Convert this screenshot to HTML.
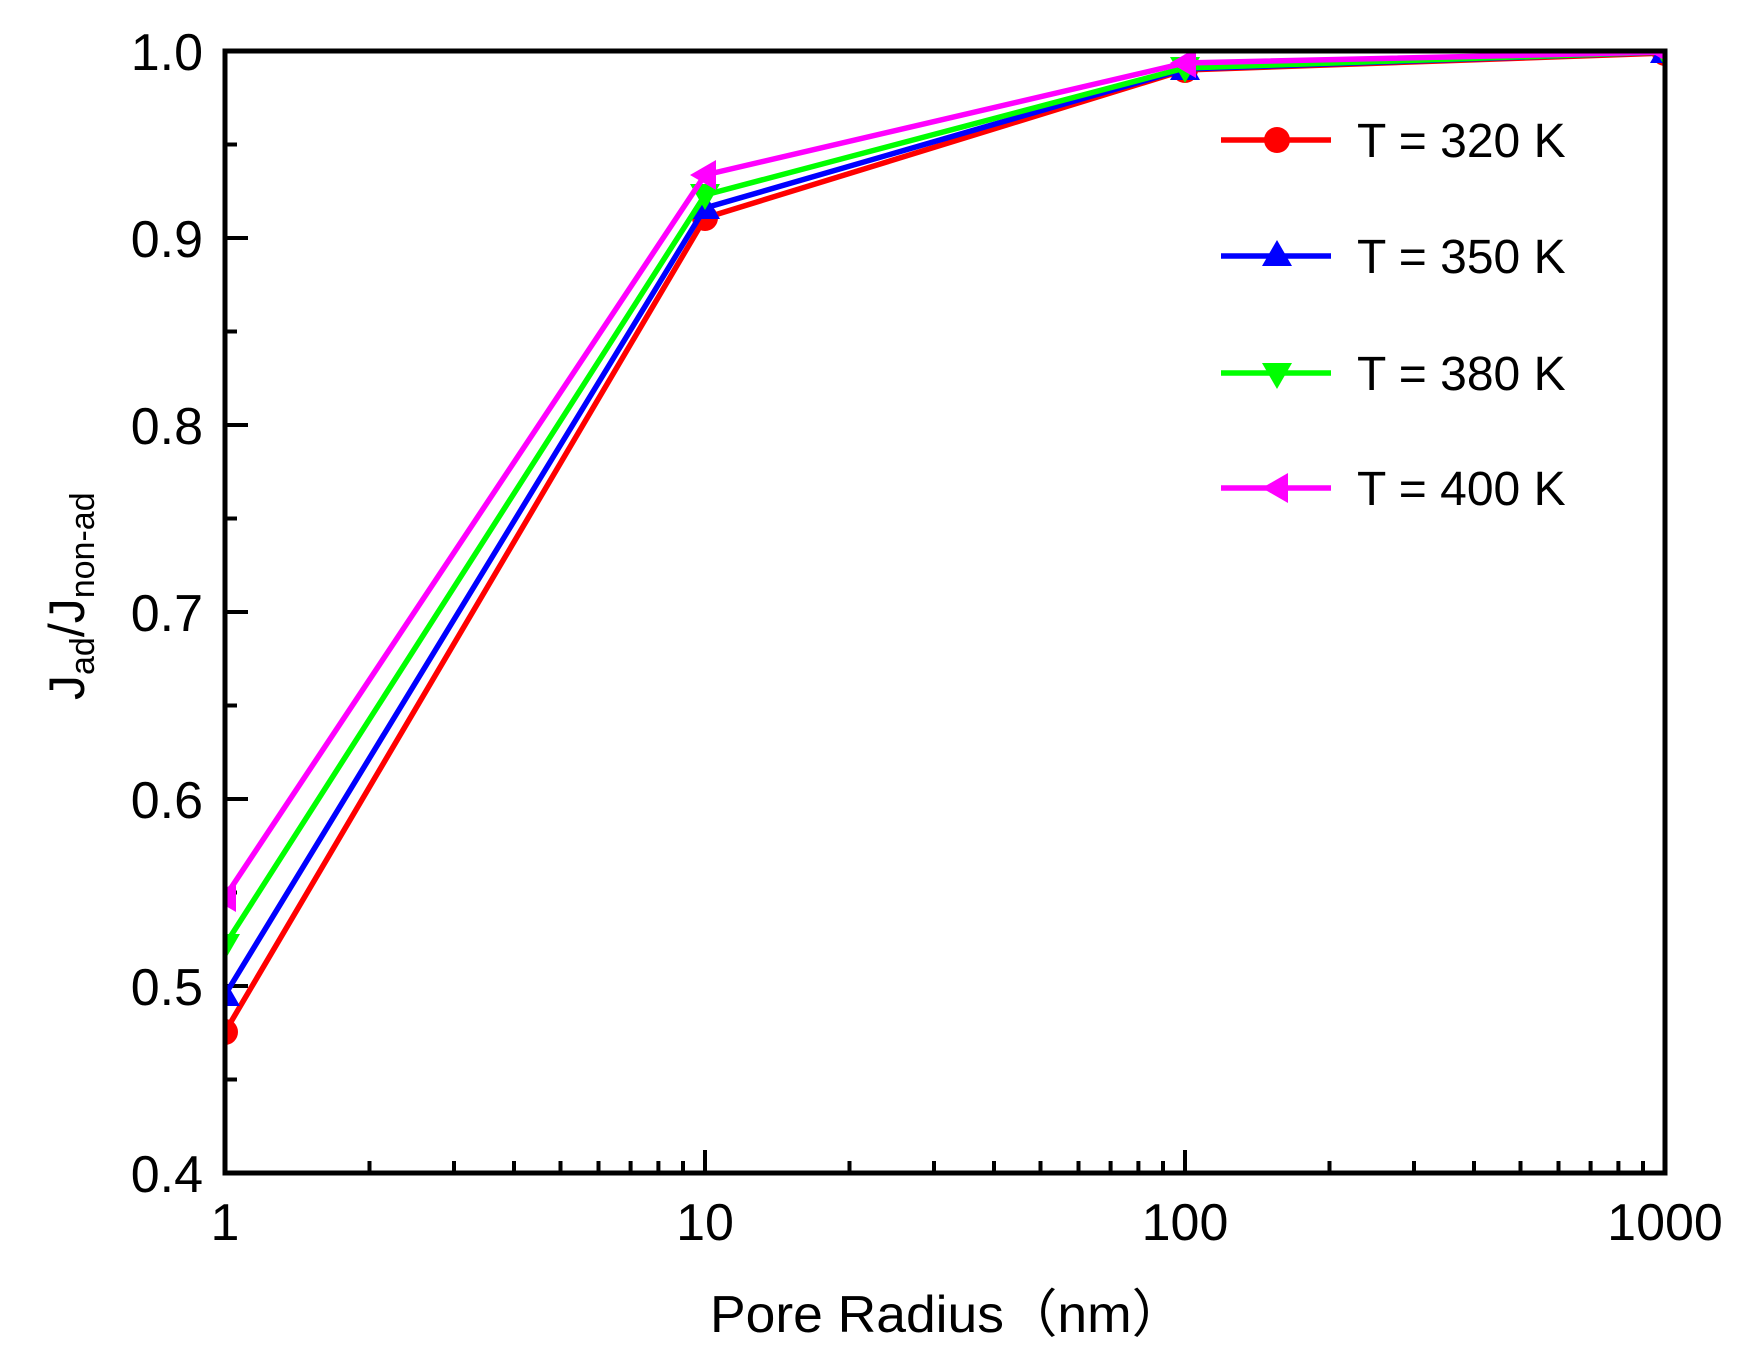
<!DOCTYPE html>
<html><head><meta charset="utf-8"><style>
html,body{margin:0;padding:0;background:#fff;}
svg{display:block;font-family:"Liberation Sans","Noto Sans CJK SC",sans-serif;}
</style></head><body>
<svg width="1746" height="1353" viewBox="0 0 1746 1353" xmlns="http://www.w3.org/2000/svg">
<defs><clipPath id="c"><rect x="225" y="51" width="1440" height="1122"/></clipPath></defs>
<rect width="1746" height="1353" fill="#fff"/>
<g stroke="#000" stroke-width="4">
<line x1="225" y1="986" x2="248" y2="986"/><line x1="225" y1="799" x2="248" y2="799"/><line x1="225" y1="612" x2="248" y2="612"/><line x1="225" y1="425" x2="248" y2="425"/><line x1="225" y1="238" x2="248" y2="238"/>
<line x1="225" y1="1079.5" x2="237" y2="1079.5"/><line x1="225" y1="892.5" x2="237" y2="892.5"/><line x1="225" y1="705.5" x2="237" y2="705.5"/><line x1="225" y1="518.5" x2="237" y2="518.5"/><line x1="225" y1="331.5" x2="237" y2="331.5"/><line x1="225" y1="144.5" x2="237" y2="144.5"/>
<line x1="705" y1="1173" x2="705" y2="1150"/><line x1="1185" y1="1173" x2="1185" y2="1150"/>
<line x1="369.5" y1="1173" x2="369.5" y2="1161"/><line x1="454" y1="1173" x2="454" y2="1161"/><line x1="514" y1="1173" x2="514" y2="1161"/><line x1="560.5" y1="1173" x2="560.5" y2="1161"/><line x1="598.5" y1="1173" x2="598.5" y2="1161"/><line x1="630.6" y1="1173" x2="630.6" y2="1161"/><line x1="658.4" y1="1173" x2="658.4" y2="1161"/><line x1="683" y1="1173" x2="683" y2="1161"/>
<line x1="849.5" y1="1173" x2="849.5" y2="1161"/><line x1="934" y1="1173" x2="934" y2="1161"/><line x1="994" y1="1173" x2="994" y2="1161"/><line x1="1040.5" y1="1173" x2="1040.5" y2="1161"/><line x1="1078.5" y1="1173" x2="1078.5" y2="1161"/><line x1="1110.6" y1="1173" x2="1110.6" y2="1161"/><line x1="1138.4" y1="1173" x2="1138.4" y2="1161"/><line x1="1163" y1="1173" x2="1163" y2="1161"/>
<line x1="1329.5" y1="1173" x2="1329.5" y2="1161"/><line x1="1414" y1="1173" x2="1414" y2="1161"/><line x1="1474" y1="1173" x2="1474" y2="1161"/><line x1="1520.5" y1="1173" x2="1520.5" y2="1161"/><line x1="1558.5" y1="1173" x2="1558.5" y2="1161"/><line x1="1590.6" y1="1173" x2="1590.6" y2="1161"/><line x1="1618.4" y1="1173" x2="1618.4" y2="1161"/><line x1="1643" y1="1173" x2="1643" y2="1161"/>
</g>
<g clip-path="url(#c)" stroke-width="5.5" fill="none">
<polyline stroke="#ff0000" points="225,1032 705,218 1185,70 1665,53"/>
<circle cx="225" cy="1032" r="13" fill="#ff0000" stroke="none"/><circle cx="705" cy="218" r="13" fill="#ff0000" stroke="none"/><circle cx="1185" cy="70" r="13" fill="#ff0000" stroke="none"/><circle cx="1665" cy="53" r="13" fill="#ff0000" stroke="none"/>
<polyline stroke="#0000ff" points="225,995 705,208 1185,69 1665,52"/>
<g fill="#0000ff" stroke="none"><polygon points="225,980 240,1006 210,1006"/><polygon points="705,193 720,219 690,219"/><polygon points="1185,54 1200,80 1170,80"/><polygon points="1665,37 1680,63 1650,63"/></g>
<polyline stroke="#00ff00" points="225,945 705,195 1185,68 1665,52"/>
<g fill="#00ff00" stroke="none"><polygon points="225,960 240,934 210,934"/><polygon points="705,210 720,184 690,184"/><polygon points="1185,83 1200,57 1170,57"/><polygon points="1665,67 1680,41 1650,41"/></g>
<polyline stroke="#ff00ff" points="225,897 705,175 1185,63 1665,52"/>
<g fill="#ff00ff" stroke="none"><polygon points="210,897 236,882 236,912"/><polygon points="690,175 716,160 716,190"/><polygon points="1170,63 1196,48 1196,78"/><polygon points="1650,52 1676,37 1676,67"/></g>
</g>
<rect x="225" y="51" width="1440" height="1122" fill="none" stroke="#000" stroke-width="5"/>
<g font-size="52" fill="#000" text-anchor="end">
<text x="203" y="1192">0.4</text><text x="203" y="1005">0.5</text><text x="203" y="818">0.6</text><text x="203" y="631">0.7</text><text x="203" y="444">0.8</text><text x="203" y="257">0.9</text><text x="203" y="70">1.0</text>
</g>
<g font-size="52" fill="#000" text-anchor="middle">
<text x="225" y="1240">1</text><text x="705" y="1240">10</text><text x="1185" y="1240">100</text><text x="1665" y="1240">1000</text>
</g>
<text x="710" y="1332" font-size="52" textLength="475" lengthAdjust="spacingAndGlyphs">Pore Radius（nm）</text>
<text transform="translate(84,700) rotate(-90)" font-size="50">J<tspan font-size="34" dy="10">ad</tspan><tspan dy="-10">/J</tspan><tspan font-size="34" dy="10">non-ad</tspan></text>
<g stroke-width="5.5">
<line x1="1221" y1="140" x2="1331" y2="140" stroke="#ff0000"/><circle cx="1277" cy="140" r="13" fill="#ff0000"/>
<line x1="1221" y1="256" x2="1331" y2="256" stroke="#0000ff"/><polygon points="1277,240 1292,266 1262,266" fill="#0000ff"/>
<line x1="1221" y1="373" x2="1331" y2="373" stroke="#00ff00"/><polygon points="1277,389 1292,363 1262,363" fill="#00ff00"/>
<line x1="1221" y1="488" x2="1331" y2="488" stroke="#ff00ff"/><polygon points="1262,488 1288,473 1288,503" fill="#ff00ff"/>
</g>
<g font-size="48" fill="#000">
<text x="1357" y="157">T = 320 K</text><text x="1357" y="273">T = 350 K</text><text x="1357" y="390">T = 380 K</text><text x="1357" y="505">T = 400 K</text>
</g>
</svg>
</body></html>
